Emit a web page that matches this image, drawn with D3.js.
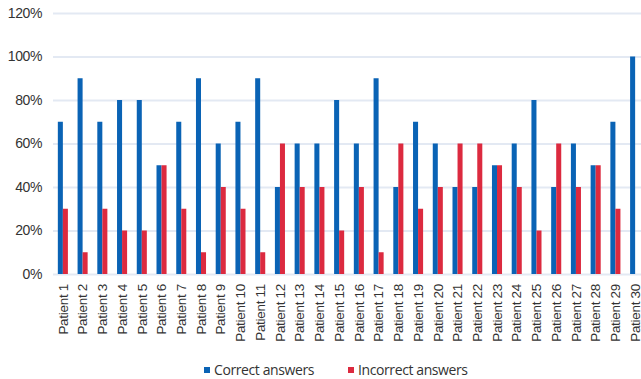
<!DOCTYPE html>
<html>
<head>
<meta charset="utf-8">
<script src="https://cdn.jsdelivr.net/npm/d3@7"></script>
<style>
  html, body { margin: 0; padding: 0; background: #fff; }
  svg { display: block; font-family: "Open Sans", "Noto Sans", sans-serif; }
</style>
</head>
<body>
<svg id="chart" width="641" height="379"></svg>
<script>
// Patients and share of correct / incorrect answers (%)
const patients = d3.range(1, 31).map(i => "Patient " + i);
const correct   = [70, 90, 70, 80, 80, 50, 70, 90, 60, 70, 90, 40, 60, 60, 80, 60, 90, 40, 70, 60, 40, 40, 50, 60, 80, 40, 60, 50, 70, 100];
const incorrect = [30, 10, 30, 20, 20, 50, 30, 10, 40, 30, 10, 60, 40, 40, 20, 40, 10, 60, 30, 40, 60, 60, 50, 40, 20, 60, 40, 50, 30, 0];
const seriesNames = ["Correct answers", "Incorrect answers"];
const yTicks = [0, 20, 40, 60, 80, 100, 120];

const colors = ["#0a63b5", "#dc2a3f"];
const textColor = "#333333";
const gridColor = "#e3e9f3";

const svg = d3.select("#chart");
const margin = { left: 53, right: -4, top: 13, bottom: 105 };
const W = 641, H = 379;

const x = d3.scaleBand()
  .domain(patients)
  .range([margin.left, W - margin.right])
  .paddingInner(0.49)
  .paddingOuter(0.245);

const x1 = d3.scaleBand()
  .domain(seriesNames)
  .range([0, x.bandwidth()]);

const y = d3.scaleLinear()
  .domain([0, 120])
  .range([H - margin.bottom, margin.top]);

// Gridlines
svg.append("g")
  .selectAll("line")
  .data(yTicks)
  .join("line")
  .attr("x1", margin.left)
  .attr("x2", W)
  .attr("y1", d => y(d) + 0.5)
  .attr("y2", d => y(d) + 0.5)
  .attr("stroke", gridColor)
  .attr("stroke-width", 2);

// Y axis labels
const yAxis = d3.axisLeft(y).tickValues(yTicks).tickFormat(d => d + "%").tickSize(0).tickPadding(0);
const gy = svg.append("g")
  .attr("transform", `translate(${margin.left - 11},0)`)
  .call(yAxis);
gy.select(".domain").remove();
gy.selectAll("text")
  .attr("fill", textColor)
  .style("font-size", "14px")
  .style("letter-spacing", "-0.4px");

// Bars
const groups = svg.append("g")
  .selectAll("g")
  .data(patients.map((p, i) => ({ p, vals: [correct[i], incorrect[i]] })))
  .join("g")
  .attr("transform", d => `translate(${x(d.p)},0)`);

groups.selectAll("rect")
  .data(d => d.vals.map((v, j) => ({ v, s: seriesNames[j], j })))
  .join("rect")
  .attr("x", d => x1(d.s))
  .attr("width", x1.bandwidth())
  .attr("y", d => y(d.v))
  .attr("height", d => y(0) - y(d.v))
  .attr("fill", d => colors[d.j]);

// X axis labels (rotated)
const xAxis = d3.axisBottom(x).tickSize(0).tickPadding(0);
const gx = svg.append("g")
  .attr("transform", `translate(0,${y(0) + 10})`)
  .call(xAxis);
gx.select(".domain").remove();
gx.selectAll("text")
  .attr("fill", textColor)
  .style("font-size", "13.5px")
  .style("letter-spacing", "-0.3px")
  .attr("transform", "rotate(-90)")
  .attr("text-anchor", "end")
  .attr("dy", "0.35em")
  .attr("x", 0)
  .attr("y", 0);

// Legend
const legendItems = [
  { name: seriesNames[0], color: colors[0], x: 204 },
  { name: seriesNames[1], color: colors[1], x: 348 }
];
const lg = svg.append("g").selectAll("g")
  .data(legendItems)
  .join("g")
  .attr("transform", d => `translate(${d.x},370)`);
lg.append("rect")
  .attr("x", 0).attr("y", -3)
  .attr("width", 6).attr("height", 6)
  .attr("fill", d => d.color);
lg.append("text")
  .attr("x", 10)
  .attr("y", 0)
  .attr("dy", "0.35em")
  .attr("fill", textColor)
  .style("font-size", "14px")
  .style("letter-spacing", "-0.4px")
  .text(d => d.name);
</script>
</body>
</html>
